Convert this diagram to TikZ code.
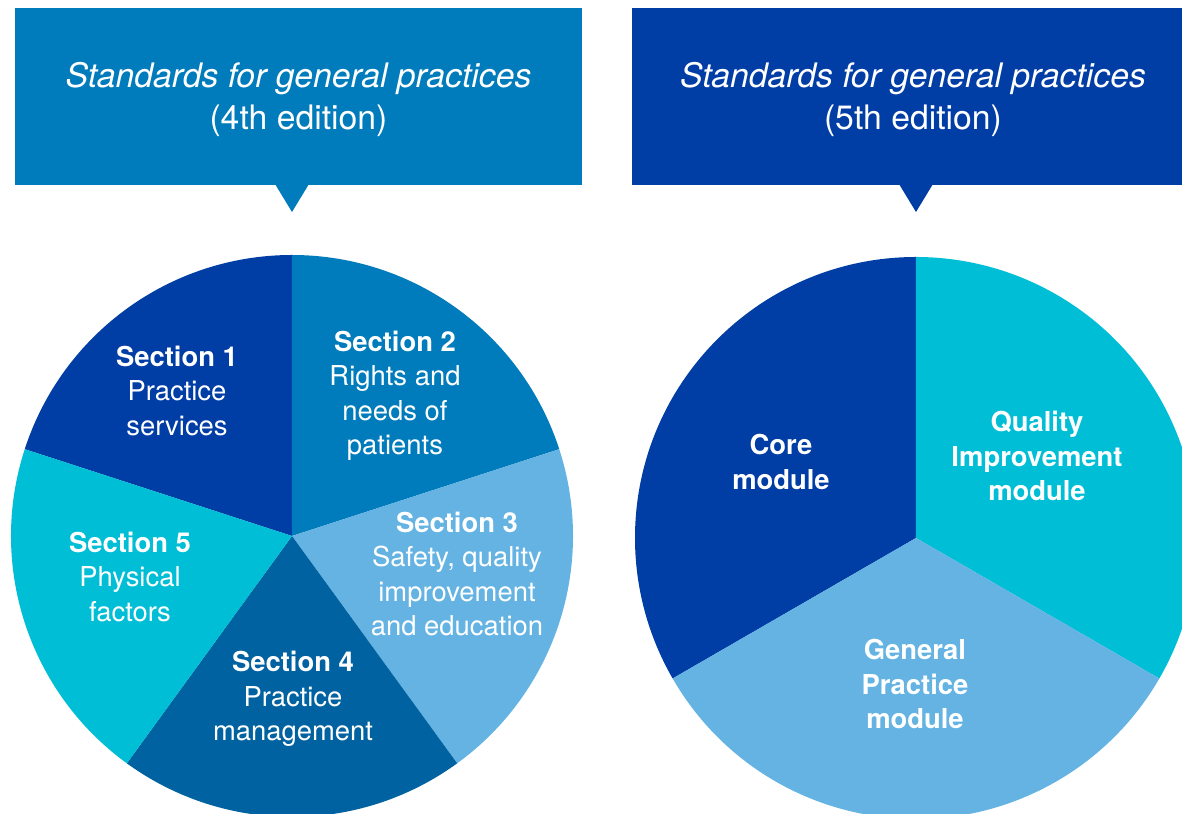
\documentclass[tikz,border=0pt]{standalone}
\usepackage{fontspec}
\setmainfont{TeX Gyre Heros}
\usepackage{xcolor}
\usetikzlibrary{positioning}

\definecolor{royal}{RGB}{0,61,165}
\definecolor{ocean}{RGB}{0,123,187}
\definecolor{sky}{RGB}{100,179,227}
\definecolor{navyteal}{RGB}{0,98,160}
\definecolor{aqua}{RGB}{0,190,214}

\tikzset{
  headtext/.style={text=white, align=center, inner sep=0pt,
    font=\fontsize{9.6}{11.95}\selectfont},
  slicetext/.style={text=white, align=center, inner sep=0pt,
    font=\fontsize{7.8}{9.8}\selectfont},
}

\begin{document}
\begin{tikzpicture}
\useasboundingbox (0,0) rectangle (11.82,8.14);

% 4th edition
\begin{scope}[xshift=0cm]{
\fill[ocean] (0.15,8.06) rectangle (5.82,6.29);
\fill[ocean] (2.75,6.30) -- (2.92,6.02) -- (3.09,6.30) -- cycle;

\coordinate (pieA) at (2.92,2.78);
\foreach \a/\b/\c in {90/162/royal, 18/90/ocean, -54/18/sky, -126/-54/navyteal, 162/234/aqua}
  \fill[\c] (pieA) -- ++(\a:2.81) arc[start angle=\a, end angle=\b, radius=2.81] -- cycle;

% nodes
{
\node[headtext] (headA) at (2.985,7.15)
  {\itshape Standards for general practices\\(4th edition)};

\node[slicetext] (secA) at (1.77,4.23) {\bfseries Section 1\\Practice\\services};
\node[slicetext] (secB) at (3.95,4.18) {\bfseries Section 2\\Rights and\\needs of\\patients};
\node[slicetext] (secC) at (4.57,2.40) {\bfseries Section 3\\Safety, quality\\improvement\\and education};
\node[slicetext] (secD) at (2.93,1.15) {\bfseries Section 4\\Practice\\management};
\node[slicetext] (secE) at (1.30,2.37) {\bfseries Section 5\\Physical\\factors};
}
} \end{scope}

% 5th edition
\begin{scope}[xshift=0cm]{
\fill[royal] (6.32,8.06) rectangle (11.95,6.29);
\fill[royal] (8.99,6.30) -- (9.16,6.02) -- (9.33,6.30) -- cycle;

\coordinate (pieB) at (9.16,2.76);
\foreach \a/\b/\c in {90/210/royal, -30/90/aqua, 210/330/sky}
  \fill[\c] (pieB) -- ++(\a:2.81) arc[start angle=\a, end angle=\b, radius=2.81] -- cycle;

% nodes
{
\node[headtext] (headB) at (9.13,7.15)
  {\itshape Standards for general practices\\(5th edition)};

\node[slicetext, font=\fontsize{7.8}{9.8}\selectfont\bfseries] (core) at (7.81,3.52) {Core\\module};
\node[slicetext, font=\fontsize{7.8}{9.8}\selectfont\bfseries] (quality) at (10.37,3.58) {Quality\\Improvement\\module};
\node[slicetext, font=\fontsize{7.8}{9.8}\selectfont\bfseries] (general) at (9.15,1.30) {General\\Practice\\module};
}
} \end{scope}

\end{tikzpicture}
\end{document}
